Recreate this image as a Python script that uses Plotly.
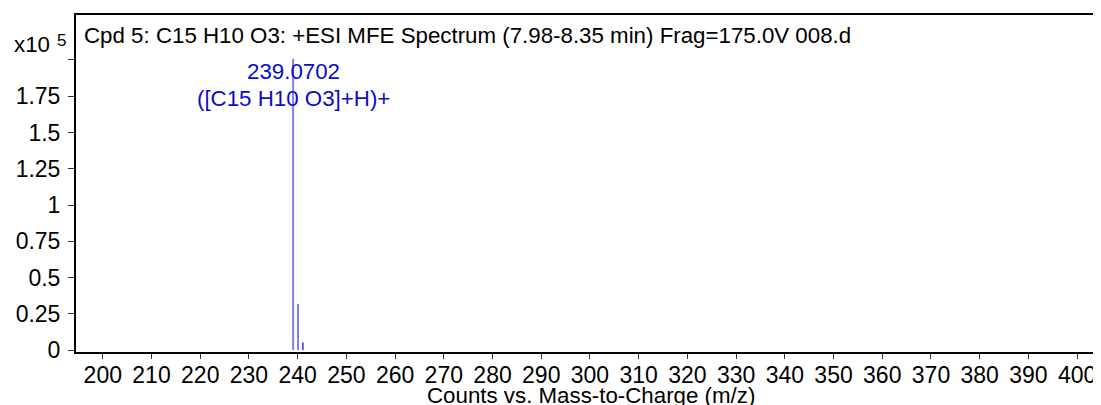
import plotly.graph_objects as go

# Data
mz_values = [239.0702, 240.0736, 241.0765]
intensities = [200800, 31700, 5300]
peak_label_mz = 239.0702
peak_label_lines = ["239.0702", "([C15 H10 O3]+H)+"]
x_ticks = list(range(200, 401, 10))
y_tickvals = [0, 25000, 50000, 75000, 100000, 125000, 150000, 175000, 200000]
y_ticktext = ["0", "0.25", "0.5", "0.75", "1", "1.25", "1.5", "1.75", ""]
title_text = "Cpd 5: C15 H10 O3: +ESI MFE Spectrum (7.98-8.35 min) Frag=175.0V 008.d"
x_title = "Counts vs. Mass-to-Charge (m/z)"
scale_base = "x10"
scale_exp = "5"

FONT = "Liberation Sans, Arial, sans-serif"
FS = 22.3
TFS = 23
pale = "#7f7ff0"
dark = "#0000cc"
peak_colors = [pale, pale, dark]
peak_widths = [2, 2, 1.2]

fig = go.Figure()
for m, h, c, w in zip(mz_values, intensities, peak_colors, peak_widths):
    fig.add_trace(go.Scatter(x=[m, m], y=[0, h], mode="lines",
                             line=dict(color=c, width=w), hoverinfo="skip",
                             showlegend=False))

OFF = 8  # page body margin
W, H = 1101 - OFF, 405 - OFF
L, R, T, B = 76 - OFF, 0, 15 - OFF, 53
ph = H - T - B
pw = W - L - R

def py(pix):
    return (H - B - (pix - OFF)) / ph

def px(pix):
    return (pix - OFF - L) / pw

def ann(text, x, y, size, color="black", xanchor="left", xref="paper"):
    fig.add_annotation(text=text, x=x, xref=xref, y=y, yref="paper",
                       showarrow=False, font=dict(family=FONT, size=size, color=color),
                       xanchor=xanchor, yanchor="middle")

ann(peak_label_lines[0], peak_label_mz, py(72), FS, "#0a0acc", "center", "x")
ann(peak_label_lines[1], peak_label_mz, py(98.5), FS, "#0a0acc", "center", "x")
ann(title_text, px(82), py(35), FS)
ann(scale_base, px(12), py(45), FS)
ann(scale_exp, px(55), py(40), 17)
ann(x_title, px(591), py(395), FS, xanchor="center")

fig.update_layout(
    width=W, height=H,
    margin=dict(l=L, r=R, t=T, b=B, pad=0),
    plot_bgcolor="white", paper_bgcolor="white",
    font=dict(family=FONT, size=TFS, color="black"),
    xaxis=dict(range=[194.5, 404.9], tickvals=x_ticks, ticks="outside",
               ticklen=5, tickcolor="#333", tickwidth=1, ticklabelstandoff=-4,
               showline=True, linecolor="black", linewidth=2, mirror=True,
               showgrid=False, zeroline=False, automargin=False),
    yaxis=dict(range=[-1300, 231000], tickvals=y_tickvals, ticktext=y_ticktext,
               ticks="outside", ticklen=6, tickcolor="#333", tickwidth=1,
               ticklabelstandoff=3,
               showline=True, linecolor="black", linewidth=2,
               showgrid=False, zeroline=False, automargin=False),
)
fig.write_html("out.html")
